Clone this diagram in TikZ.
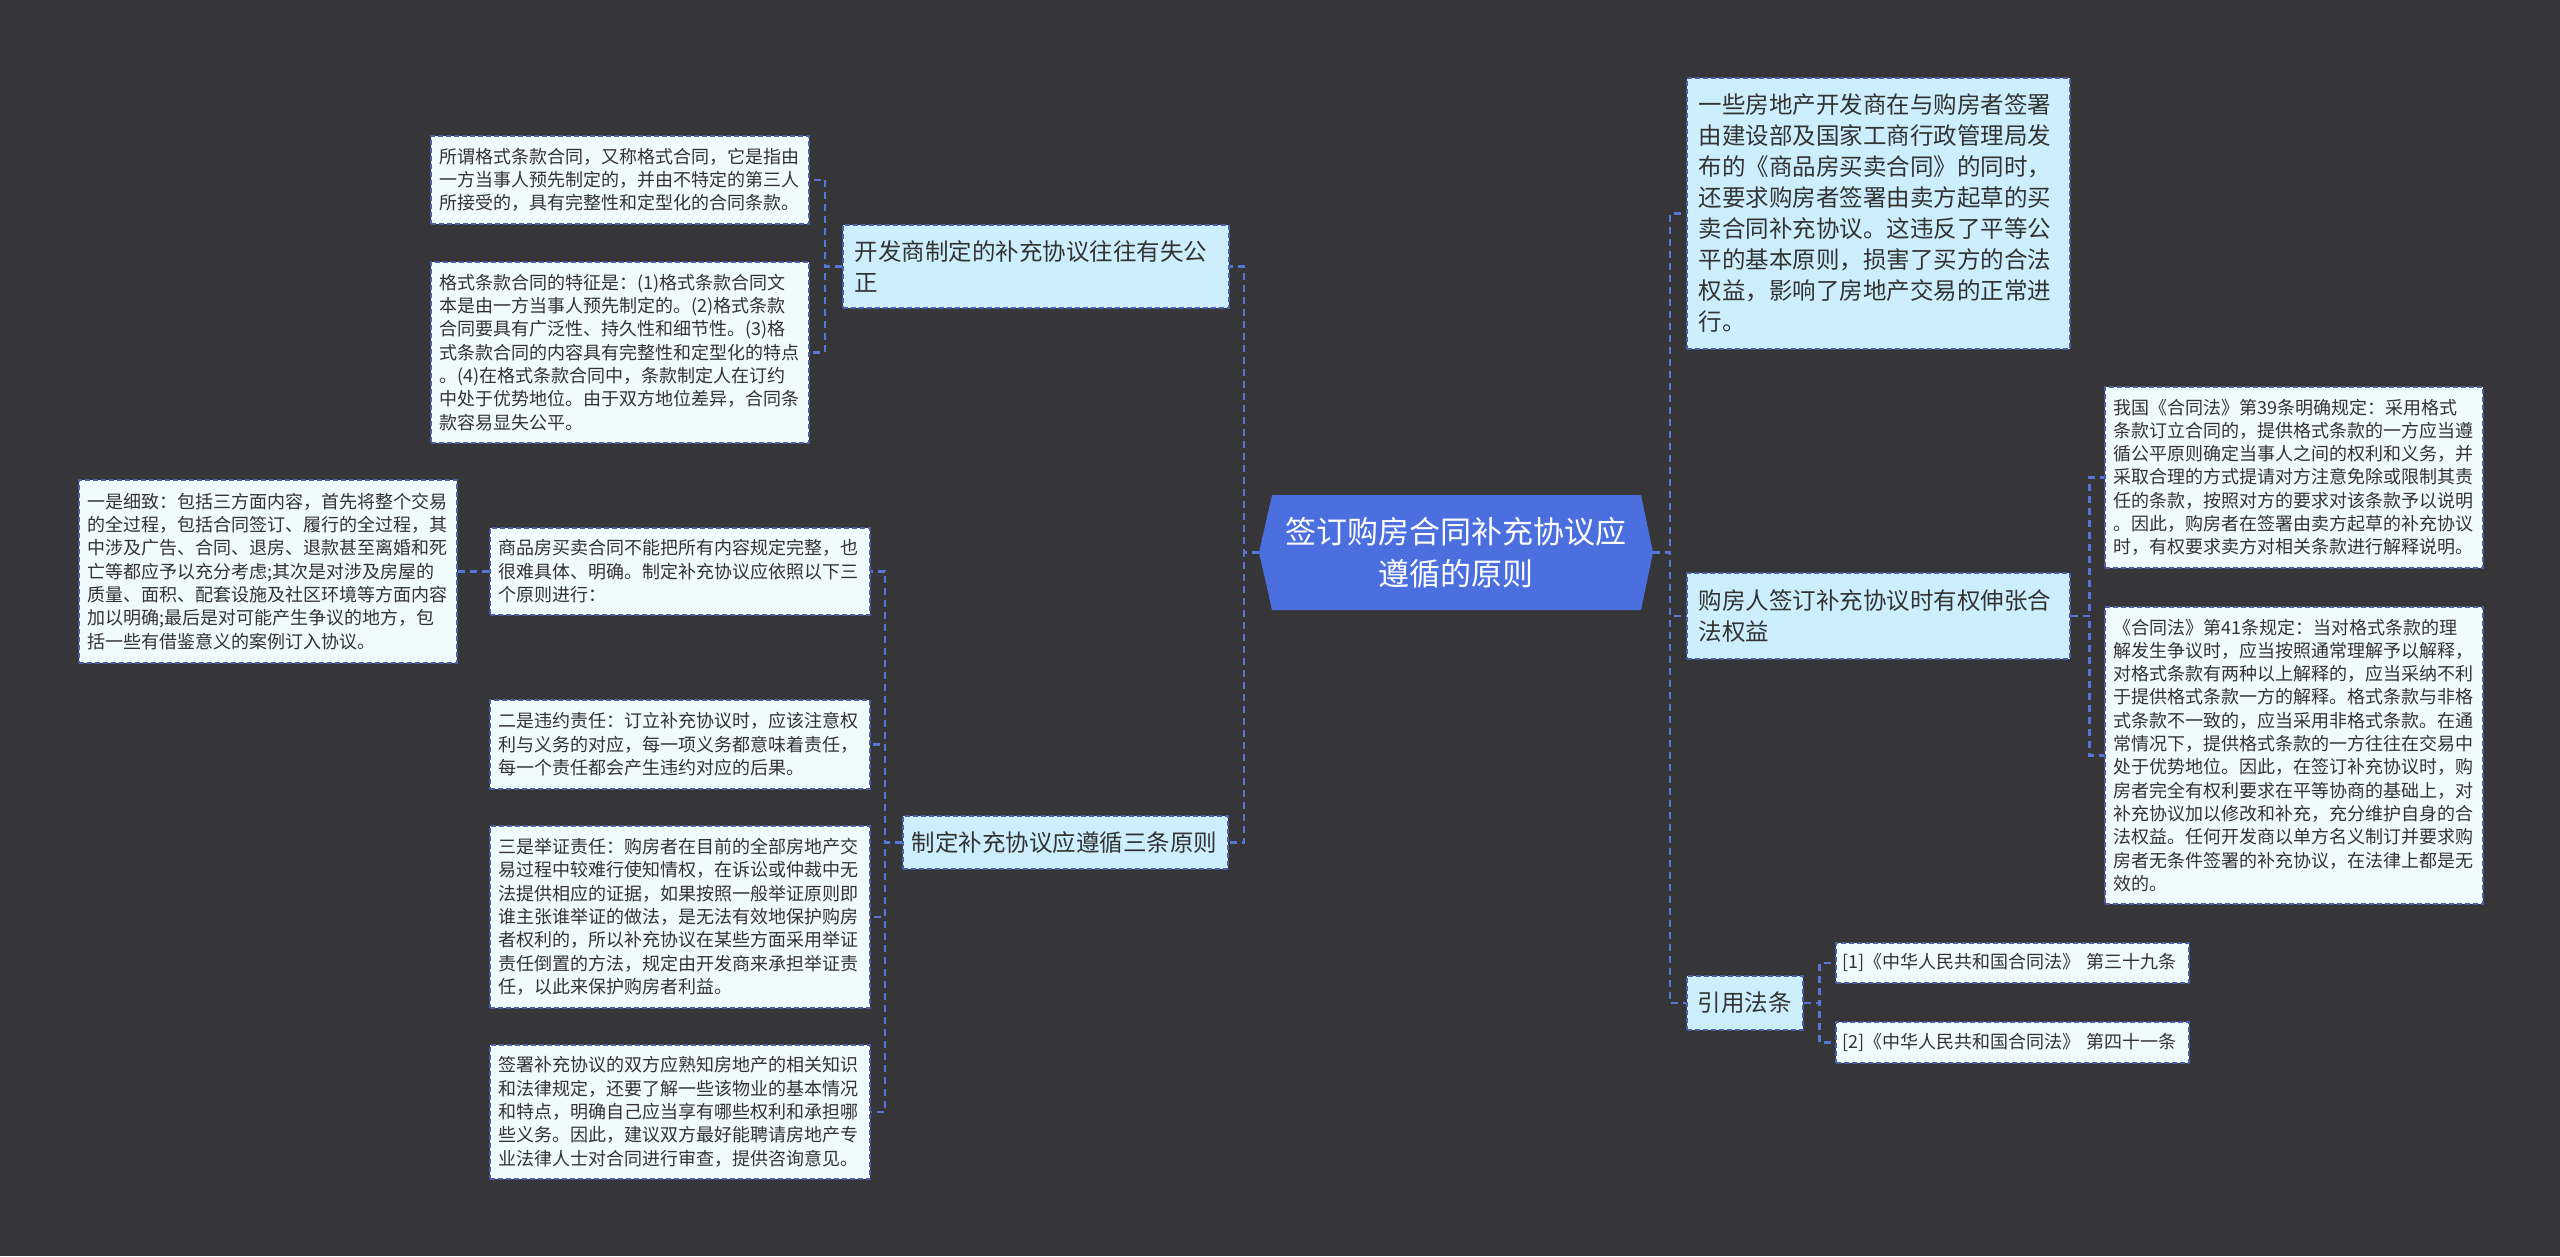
\documentclass[tikz,border=0pt]{standalone}
\usepackage{fontspec}
\setmainfont{Noto Sans CJK SC}
\definecolor{bgc}{HTML}{363537}
\definecolor{hexc}{HTML}{4B6FDF}
\definecolor{lvlf}{HTML}{CDEFFD}
\definecolor{leaff}{HTML}{F0FBFD}
\definecolor{bordc}{HTML}{4A5FA8}
\definecolor{connc}{HTML}{5777D8}
\definecolor{txtc}{HTML}{333333}
\tikzset{
  leaf/.style={draw=bordc, line width=1.6pt, dash pattern=on 5pt off 3pt, fill=leaff, text=txtc,
    font=\fontsize{18}{23.3}\selectfont, align=left, inner xsep=9pt, inner ysep=0pt, anchor=north west},
  lvl/.style={leaf, fill=lvlf, font=\fontsize{23.5}{31}\selectfont, inner xsep=12pt},
  conn/.style={draw=connc, line width=2.4pt, dash pattern=on 7pt off 5pt},
}
\begin{document}
\begin{tikzpicture}[x=1pt,y=-1pt]
\useasboundingbox (0,0) rectangle (2560,1256);
\fill[bgc] (0,0) rectangle (2560,1256);

% central
\fill[hexc] (1259,552.5) -- (1272,495) -- (1641,495) -- (1653,552.5) -- (1641,610) -- (1272,610) -- cycle;
\node[font=\fontsize{31}{41.5}\selectfont, text=white, align=center, minimum width=394pt, minimum height=115pt, inner sep=0pt] (c) at (1456,552.5) {签订购房合同补充协议应\\遵循的原则};

% left side
\node[lvl, minimum width=386pt, minimum height=83pt, text width=362pt] (L1) at (842,224) {开发商制定的补充协议往往有失公\\正};
\node[leaf, minimum width=378pt, minimum height=88pt, text width=360pt] (L1a) at (430,135) {所谓格式条款合同，又称格式合同，它是指由\\一方当事人预先制定的，并由不特定的第三人\\所接受的，具有完整性和定型化的合同条款。};
\node[leaf, minimum width=378pt, minimum height=181pt, text width=360pt] (L1b) at (430,261) {格式条款合同的特征是：(1)格式条款合同文\\本是由一方当事人预先制定的。(2)格式条款\\合同要具有广泛性、持久性和细节性。(3)格\\式条款合同的内容具有完整性和定型化的特点\\。(4)在格式条款合同中，条款制定人在订约\\中处于优势地位。由于双方地位差异，合同条\\款容易显失公平。};

\node[lvl, inner xsep=9pt, minimum width=325pt, minimum height=53pt, text width=307pt] (L2) at (902,815) {制定补充协议应遵循三条原则};
\node[leaf, minimum width=380pt, minimum height=87pt, text width=362pt] (L2a) at (489,527) {商品房买卖合同不能把所有内容规定完整，也\\很难具体、明确。制定补充协议应依照以下三\\个原则进行：};
\node[leaf, minimum width=378pt, minimum height=183pt, text width=360pt] (L2aa) at (78,479) {一是细致：包括三方面内容，首先将整个交易\\的全过程，包括合同签订、履行的全过程，其\\中涉及广告、合同、退房、退款甚至离婚和死\\亡等都应予以充分考虑;其次是对涉及房屋的\\质量、面积、配套设施及社区环境等方面内容\\加以明确;最后是对可能产生争议的地方，包\\括一些有借鉴意义的案例订入协议。};
\node[leaf, minimum width=380pt, minimum height=89pt, text width=362pt] (L2b) at (489,699) {二是违约责任：订立补充协议时，应该注意权\\利与义务的对应，每一项义务都意味着责任，\\每一个责任都会产生违约对应的后果。};
\node[leaf, minimum width=380pt, minimum height=182pt, text width=362pt] (L2c) at (489,825) {三是举证责任：购房者在目前的全部房地产交\\易过程中较难行使知情权，在诉讼或仲裁中无\\法提供相应的证据，如果按照一般举证原则即\\谁主张谁举证的做法，是无法有效地保护购房\\者权利的，所以补充协议在某些方面采用举证\\责任倒置的方法，规定由开发商来承担举证责\\任，以此来保护购房者利益。};
\node[leaf, minimum width=380pt, minimum height=134pt, text width=362pt] (L2d) at (489,1044) {签署补充协议的双方应熟知房地产的相关知识\\和法律规定，还要了解一些该物业的基本情况\\和特点，明确自己应当享有哪些权利和承担哪\\些义务。因此，建议双方最好能聘请房地产专\\业法律人士对合同进行审查，提供咨询意见。};

% right side
\node[lvl, minimum width=383pt, minimum height=271pt, text width=359pt] (R1) at (1686,77) {一些房地产开发商在与购房者签署\\由建设部及国家工商行政管理局发\\布的《商品房买卖合同》的同时，\\还要求购房者签署由卖方起草的买\\卖合同补充协议。这违反了平等公\\平的基本原则，损害了买方的合法\\权益，影响了房地产交易的正常进\\行。};
\node[lvl, minimum width=383pt, minimum height=86pt, text width=359pt] (R2) at (1686,572) {购房人签订补充协议时有权伸张合\\法权益};
\node[lvl, inner xsep=11pt, minimum width=116pt, minimum height=54pt, text width=94pt] (R3) at (1686,975) {引用法条};

\node[leaf, minimum width=378pt, minimum height=181pt, text width=360pt] (R2a) at (2104,386) {我国《合同法》第39条明确规定：采用格式\\条款订立合同的，提供格式条款的一方应当遵\\循公平原则确定当事人之间的权利和义务，并\\采取合理的方式提请对方注意免除或限制其责\\任的条款，按照对方的要求对该条款予以说明\\。因此，购房者在签署由卖方起草的补充协议\\时，有权要求卖方对相关条款进行解释说明。};
\node[leaf, minimum width=378pt, minimum height=297pt, text width=360pt] (R2b) at (2104,606) {《合同法》第41条规定：当对格式条款的理\\解发生争议时，应当按照通常理解予以解释，\\对格式条款有两种以上解释的，应当采纳不利\\于提供格式条款一方的解释。格式条款与非格\\式条款不一致的，应当采用非格式条款。在通\\常情况下，提供格式条款的一方往往在交易中\\处于优势地位。因此，在签订补充协议时，购\\房者完全有权利要求在平等协商的基础上，对\\补充协议加以修改和补充，充分维护自身的合\\法权益。任何开发商以单方名义制订并要求购\\房者无条件签署的补充协议，在法律上都是无\\效的。};

\node[leaf, inner xsep=6.5pt, minimum width=353pt, minimum height=40pt, text width=340pt] (R3a) at (1835,942) {[1]《中华人民共和国合同法》 第三十九条};
\node[leaf, inner xsep=6.5pt, minimum width=353pt, minimum height=41pt, text width=340pt] (R3b) at (1835,1021) {[2]《中华人民共和国合同法》 第四十一条};

% connectors
\draw[conn] (c.east) -- ++(17,0) |- (R1.west);
\draw[conn] (c.east) -- ++(17,0) |- (R2.west);
\draw[conn] (c.east) -- ++(17,0) |- (R3.west);
\draw[conn] (c.west) -- ++(-15,0) |- (L1.east);
\draw[conn] (c.west) -- ++(-15,0) |- (L2.east);
\draw[conn] (L1.west) -- ++(-17,0) |- (L1a.east);
\draw[conn] (L1.west) -- ++(-17,0) |- (L1b.east);
\draw[conn] (L2.west) -- ++(-17,0) |- (L2a.east);
\draw[conn] (L2.west) -- ++(-17,0) |- (L2b.east);
\draw[conn] (L2.west) -- ++(-17,0) |- (L2c.east);
\draw[conn] (L2.west) -- ++(-17,0) |- (L2d.east);
\draw[conn] (L2a.west) -- (L2aa.east);
\draw[conn] (R2.east) -- ++(19,0) |- (R2a.west);
\draw[conn] (R2.east) -- ++(19,0) |- (R2b.west);
\draw[conn] (R3.east) -- ++(16,0) |- (R3a.west);
\draw[conn] (R3.east) -- ++(16,0) |- (R3b.west);
\end{tikzpicture}
\end{document}
